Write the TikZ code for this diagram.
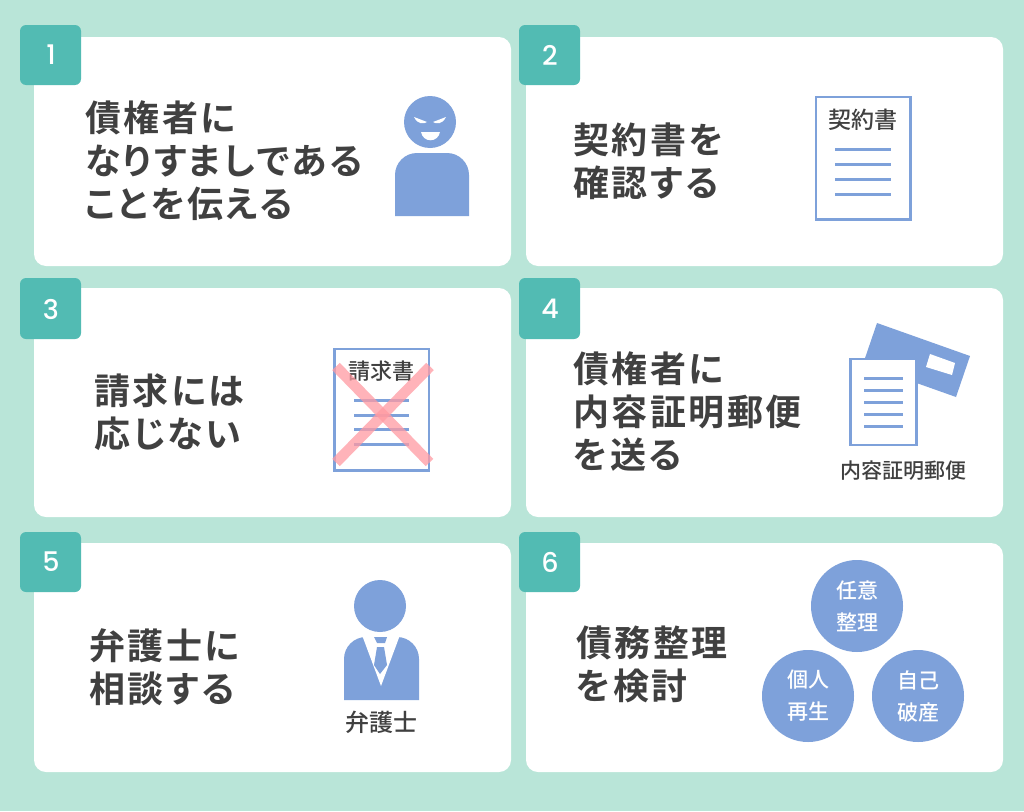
\documentclass[tikz,border=0pt]{standalone}
\usepackage{fontspec}
\setmainfont[RawFeature={+palt}]{Noto Sans CJK JP}
\newfontfamily\headfont[LetterSpace=7,RawFeature={+palt}]{Noto Sans CJK JP Bold}
\newfontfamily\labelfont{Noto Sans CJK JP Medium}
\newfontfamily\numfont{Poppins Medium}
\definecolor{bgc}{HTML}{B9E5D8}
\definecolor{badgec}{HTML}{52BBB3}
\definecolor{bluec}{HTML}{7EA1DA}
\definecolor{textc}{HTML}{404040}
\definecolor{pinkc}{HTML}{FF9AA2}
\tikzset{
 x=1pt,y=-1pt,
 card/.style={fill=white,rounded corners=12pt},
 badge/.style={fill=badgec,rounded corners=6pt},
 num/.style={text=white,font=\numfont\fontsize{27}{27}\selectfont,inner sep=0pt},
 head/.style={text=textc,anchor=west,align=left,inner sep=0pt,font=\headfont\fontsize{36}{43}\selectfont},
 small/.style={text=textc,inner sep=0pt,font=\labelfont\fontsize{#1}{#1}\selectfont},
 circ/.style={circle,fill=bluec,minimum size=92pt,inner sep=0pt,text=white,align=center,font=\labelfont\fontsize{21}{32}\selectfont},
 docframe/.style={draw=bluec,fill=white,line width=2.6pt},
 docline/.style={draw=bluec,line width=3pt},
 cross/.style={draw=pinkc,line width=10.5pt,opacity=.75}
}
\begin{document}
\begin{tikzpicture}
\useasboundingbox (0,0) rectangle (1024,811);
\fill[bgc] (0,0) rectangle (1024,811);
% cards
\fill[card] (34,37) rectangle (511,266);
\fill[card] (526,37) rectangle (1003,266);
\fill[card] (34,288) rectangle (511,517);
\fill[card] (526,288) rectangle (1003,517);
\fill[card] (34,543) rectangle (511,772);
\fill[card] (526,543) rectangle (1003,772);
% badges
\fill[badge] (20,25) rectangle (81,85);
\fill[badge] (519,25) rectangle (580,85);
\fill[badge] (20,278) rectangle (81,339);
\fill[badge] (519,278) rectangle (580,339);
\fill[badge] (20,532) rectangle (81,592);
\fill[badge] (519,532) rectangle (580,592);
\node[num] (n1) at (51,55) {1};
\node[num] (n2) at (550,55) {2};
\node[num] (n3) at (51,309) {3};
\node[num] (n4) at (550,309) {4};
\node[num] (n5) at (51,562) {5};
\node[num] (n6) at (550,562) {6};
% headings
\node[head] (h1) at (85,160.5) {債権者に\\なりすましである\\ことを伝える};
\node[head] (h2) at (573,161.5) {契約書を\\確認する};
\node[head] (h3) at (94,412) {請求には\\応じない};
\node[head] (h4) at (573,412) {債権者に\\内容証明郵便\\を送る};
\node[head] (h5) at (89,667.5) {弁護士に\\相談する};
\node[head] (h6) at (576,664) {債務整理\\を検討};
% person 1
\fill[bluec] (430,122) circle (26);
\fill[bluec] (395,216) [rounded corners=22pt] -- (395,153) -- (469,153) [sharp corners] -- (469,216) -- cycle;
\fill[white] (414,117) -- (427,122) .. controls (424,124) and (418,125) .. cycle;
\fill[white] (446,117) -- (433,122) .. controls (436,124) and (442,125) .. cycle;
\fill[white] (421,132) -- (440,132) .. controls (438,143) and (423,143) .. cycle;
% doc 2
\draw[docframe] (816,97) rectangle (910.5,219.5);
\node[small=23] (d2) at (863,120) {契約書};
\foreach \y in {149,164,179,194} \draw[docline] (835,\y) -- (891,\y);
% doc 3
\draw[docframe] (334.5,349) rectangle (429,470.5);
\node[small=22] (d3) at (381,371) {請求書};
\foreach \y in {400,415,429,444} \draw[docline] (354,\y) -- (409,\y);
\draw[cross] (336,366.5) -- (429.5,462.5);
\draw[cross] (430,366.5) -- (336,462.5);
% envelope + doc 4
\fill[bluec] (877,323) -- (970,356) -- (956,397) -- (863,364) -- cycle;
\fill[white] (930,354) -- (955,363) -- (952,375) -- (926,367) -- cycle;
\draw[docframe] (850.5,359) rectangle (916.5,445);
\foreach \y in {378,390,402,414,426} \draw[docline] (864,\y) -- (903,\y);
\node[small=21] (d4) at (903.5,471) {内容証明郵便};
% lawyer
\fill[bluec] (380,606) circle (26);
\fill[bluec] (344,700) [rounded corners=22pt] -- (344,637) -- (419,637) [sharp corners] -- (419,700) -- cycle;
\fill[white] (362,635) -- (381,686) -- (400,635) -- cycle;
\fill[bluec] (374,637) -- (387,637) -- (385,643) -- (377,643) -- cycle;
\fill[bluec] (377,647) -- (384,647) -- (387,665) -- (380,674) -- (374,665) -- cycle;
\node[small=24] (d5) at (381,722) {弁護士};
% circles
\node[circ] (c1) at (857,606) {任意\\整理};
\node[circ] (c2) at (808,696) {個人\\再生};
\node[circ] (c3) at (918,696) {自己\\破産};
\end{tikzpicture}
\end{document}
